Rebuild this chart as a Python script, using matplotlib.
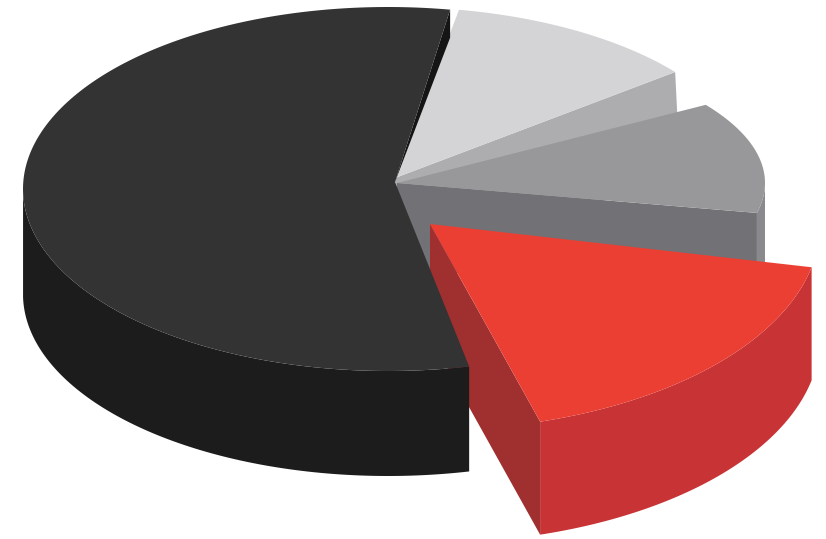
import numpy as np
import matplotlib
matplotlib.use('Agg')
import matplotlib.pyplot as plt

# pie shares, counter-clockwise from the black slice (percent)
names = ['black', 'red', 'grey', 'light']
shares = [57.8, 17.6, 12.8, 11.8]

SWEEP = 3.506  # degrees per percent, the rest is the gaps between slices

# look of each slice
start = dict(black=80.2, red=-73.6, grey=-12.0, light=38.3)
apex = dict(black=(395, 182), red=(430, 224), grey=(397, 183), light=(395, 178))
centre = dict(black=(388, 189), red=(430, 225), grey=(395, 183), light=(395, 178))
radius = dict(black=(365, 182), red=(390, 205), grey=(370, 144), light=(357, 171))
depth = dict(black=105, red=113, grey=85, light=100)
lean = dict(black=0, red=0, grey=0, light=0.05)
top_col = dict(black='#333333', red='#ec3f33', grey='#98989a', light='#d4d4d6')
rim_col = dict(black='#1c1c1c', red='#c83336', grey='#8a8a8e', light='#adadb0')
cut_col = dict(black='#151515', red='#a02f30', grey='#717176', light='#adadb0')

sweep = {n: s * SWEEP for n, s in zip(names, shares)}


def rim(n):
    t = np.radians(np.linspace(start[n], start[n] + sweep[n], 200))
    x = centre[n][0] + radius[n][0] * np.cos(t)
    y = centre[n][1] - radius[n][1] * np.sin(t)
    return t, x, y


def sides(n):
    t, x, y = rim(n)
    d = depth[n]
    dx = lean[n] * d
    # outer wall, only the part that faces the viewer
    front = np.sin(t) <= 0
    if front.any():
        wx, wy = x[front], y[front]
        ax.fill(np.r_[wx, (wx + dx)[::-1]], np.r_[wy, (wy + d)[::-1]],
                color=rim_col[n], lw=0)
    # cut face at the start of the slice
    if n == 'black':
        # only a thin dark sliver shows along the back edge
        ax.fill([apex[n][0], x[0], x[0]], [apex[n][1], y[0], y[0] + 28],
                color=cut_col[n], lw=0)
    else:
        px = [apex[n][0], x[0], x[0] + dx, apex[n][0] + dx]
        py = [apex[n][1], y[0], y[0] + d, apex[n][1] + d]
        ax.fill(px, py, color=cut_col[n], lw=0)


def top(n):
    t, x, y = rim(n)
    ax.fill(np.r_[apex[n][0], x], np.r_[apex[n][1], y], color=top_col[n], lw=0)


fig = plt.figure(figsize=(8.26, 5.39), dpi=100)
ax = fig.add_axes([0, 0, 1, 1])
ax.set_xlim(0, 826)
ax.set_ylim(539, 0)
ax.axis('off')

sides('light')
top('light')
sides('grey')
top('grey')
sides('red')
sides('black')
top('black')
top('red')

fig.savefig('out.png', dpi=100)
